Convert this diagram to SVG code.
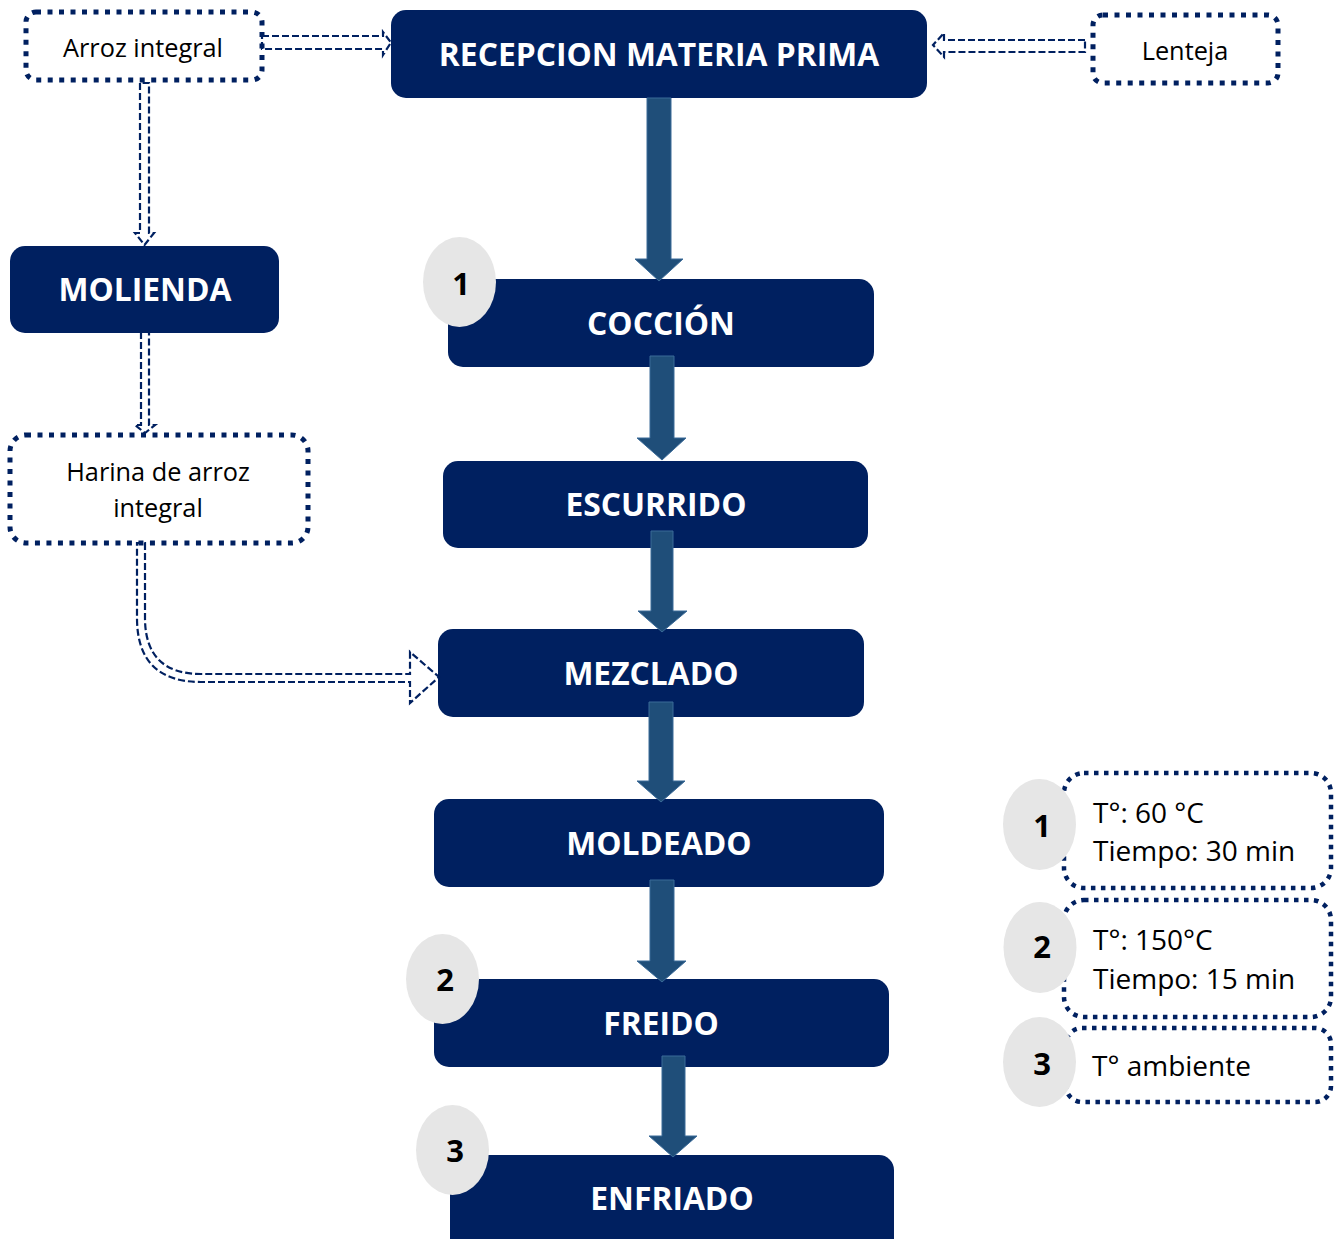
<svg xmlns="http://www.w3.org/2000/svg" width="1338" height="1239" viewBox="0 0 1338 1239">
<style>
.box{fill:#002060;}
.lbl{font-family:"Open Sans","Liberation Sans",sans-serif;font-weight:bold;font-size:31.8px;fill:#ffffff;text-anchor:middle;}
.dot{fill:#ffffff;stroke:#002060;stroke-width:5;stroke-dasharray:5 6.5;}
.dotl{fill:#ffffff;stroke:#002060;stroke-width:4.5;stroke-dasharray:4.5 5.5;}
.txt{font-family:"Open Sans","Liberation Sans",sans-serif;font-size:25.3px;fill:#000000;text-anchor:middle;}
.ltxt{font-family:"Open Sans","Liberation Sans",sans-serif;font-size:28px;fill:#000000;}
.blk{fill:#1F4E79;stroke:#3A6A98;stroke-width:1;}
.dash{fill:none;stroke:#002060;stroke-width:2.2;stroke-dasharray:7 3;stroke-linejoin:miter;}
.circ{fill:#E6E6E6;}
.num{font-family:"Open Sans","Liberation Sans",sans-serif;font-weight:bold;font-size:31px;fill:#000000;text-anchor:middle;}
</style>

<g id="arroz-integral">
<rect class="dot" x="26" y="12" width="236" height="68" rx="10"/>
<text class="txt" x="143" y="57">Arroz integral</text>
</g>
<g id="lenteja">
<rect class="dot" x="1093" y="15" width="185" height="68" rx="10"/>
<text class="txt" x="1185" y="60">Lenteja</text>
</g>
<g id="harina">
<rect class="dot" x="10" y="435" width="298" height="108" rx="16"/>
<text class="txt" x="158" y="481">Harina de arroz</text>
<text class="txt" x="158" y="517">integral</text>
</g>

<g id="recepcion"><rect class="box" x="391" y="10" width="536" height="88" rx="15"/><text class="lbl" x="659" y="66">RECEPCION MATERIA PRIMA</text></g>
<g id="molienda"><rect class="box" x="10" y="246" width="269" height="87" rx="15"/><text class="lbl" x="145" y="301">MOLIENDA</text></g>
<g id="coccion"><rect class="box" x="448" y="279" width="426" height="88" rx="15"/><text class="lbl" x="661" y="335">COCCIÓN</text></g>
<g id="escurrido"><rect class="box" x="443" y="461" width="425" height="87" rx="15"/><text class="lbl" x="656" y="516">ESCURRIDO</text></g>
<g id="mezclado"><rect class="box" x="438" y="629" width="426" height="88" rx="15"/><text class="lbl" x="651" y="685">MEZCLADO</text></g>
<g id="moldeado"><rect class="box" x="434" y="799" width="450" height="88" rx="15"/><text class="lbl" x="659" y="855">MOLDEADO</text></g>
<g id="freido"><rect class="box" x="434" y="979" width="455" height="88" rx="15"/><text class="lbl" x="661" y="1035">FREIDO</text></g>
<g id="enfriado"><rect class="box" x="450" y="1155" width="444" height="100" rx="15"/><text class="lbl" x="672" y="1210">ENFRIADO</text></g>

<g id="connectors">
<polygon class="blk" points="647,98 671,98 671,259 683,259 659,281 635,259 647,259"/>
<polygon class="blk" points="650,356 674,356 674,438 686,438 662,460 637,438 650,438"/>
<polygon class="blk" points="651,531 673,531 673,611 687,611 662,632 638,611 651,611"/>
<polygon class="blk" points="649,702 673,702 673,781 685,781 661,802 637,781 649,781"/>
<polygon class="blk" points="650,880 674,880 674,961 686,961 662,982 637,961 650,961"/>
<polygon class="blk" points="662,1056 685,1056 685,1136 697,1136 673,1157 649,1136 662,1136"/>

<path class="dash" d="M262,36 H383 V32 L391,42.5 L383,55 V49 H262 Z"/>
<path class="dash" d="M1085,40 H944 V33 L933,45 L944,57 V52 H1085 Z"/>
<path class="dash" d="M140,83 V233 H135 L144.5,245 L154,233 H149 V83 Z"/>
<path class="dash" d="M141,332 V425 H135 L145,433 L155,425 H149 V332 Z"/>
<path class="dash" d="M145,543 V618 Q145,674 201,674 H410 V652 L439,677 L410,703 V682 H201 Q137,682 137,618 V543 Z"/>
</g>

<g id="badge-1"><ellipse class="circ" cx="459.5" cy="282" rx="36.5" ry="45"/><text class="num" x="461" y="295">1</text></g>
<g id="badge-2"><ellipse class="circ" cx="442.5" cy="979" rx="36.5" ry="45"/><text class="num" x="445" y="991">2</text></g>
<g id="badge-3"><ellipse class="circ" cx="452.5" cy="1150" rx="36.5" ry="45"/><text class="num" x="455" y="1162">3</text></g>

<g id="legend-1">
<rect class="dotl" x="1064" y="773" width="267" height="115" rx="20"/>
<ellipse class="circ" cx="1039.5" cy="824.5" rx="36.5" ry="45.5"/>
<text class="num" x="1042" y="837">1</text>
<text class="ltxt" x="1093" y="823">T°: 60 °C</text>
<text class="ltxt" x="1093" y="861">Tiempo: 30 min</text>
</g>
<g id="legend-2">
<rect class="dotl" x="1064" y="900" width="267" height="117" rx="20"/>
<ellipse class="circ" cx="1040" cy="947.5" rx="36.5" ry="45.5"/>
<text class="num" x="1042" y="958">2</text>
<text class="ltxt" x="1093" y="950">T°: 150°C</text>
<text class="ltxt" x="1093" y="989">Tiempo: 15 min</text>
</g>
<g id="legend-3">
<rect class="dotl" x="1066" y="1028" width="265" height="74" rx="16"/>
<ellipse class="circ" cx="1039.5" cy="1062" rx="36.5" ry="45"/>
<text class="num" x="1042" y="1075">3</text>
<text class="ltxt" x="1092" y="1076">T° ambiente</text>
</g>
</svg>
